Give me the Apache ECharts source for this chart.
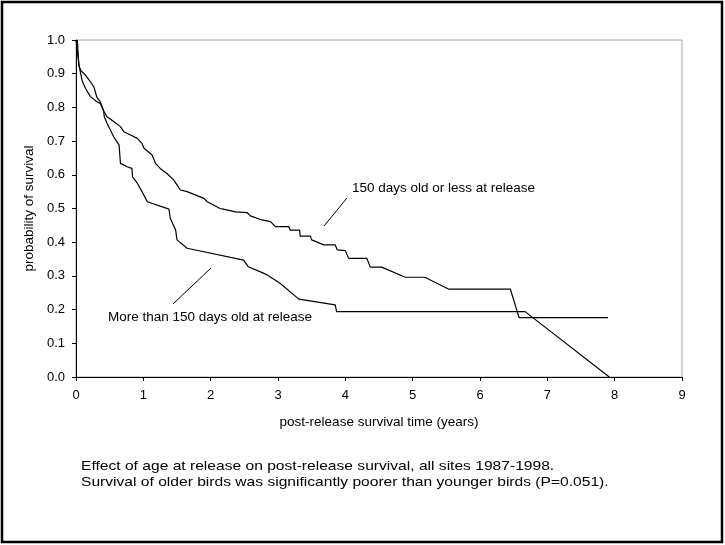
<!DOCTYPE html>
<html><head><meta charset="utf-8">
<script src="https://cdn.jsdelivr.net/npm/echarts@6/dist/echarts.min.js"></script>
<style>html,body{margin:0;padding:0;background:#fff}#c{width:725px;height:545px}</style>
</head><body><div id="c"></div>
<script>
// Younger birds: 150 days old or less at release
const youngX = [0,0.03,0.05,0.07,0.14,0.215,0.265,0.28,0.31,0.36,0.41,0.46,0.56,0.66,0.71,0.81,0.91,0.98,1.01,1.13,1.18,1.25,1.35,1.45,1.50,1.55,1.65,1.90,1.95,2.14,2.17,2.37,2.54,2.59,2.76,2.89,2.96,3.16,3.18,3.32,3.33,3.48,3.50,3.68,3.85,3.88,4.0,4.05,4.32,4.37,4.54,4.89,5.18,5.53,6.45,6.58,7.90];
const youngY = [1.0,0.95,0.92,0.91,0.896,0.876,0.861,0.86,0.83,0.817,0.79,0.772,0.758,0.743,0.728,0.718,0.708,0.693,0.679,0.659,0.634,0.619,0.604,0.585,0.570,0.555,0.55,0.53,0.52,0.50,0.499,0.49,0.488,0.478,0.466,0.461,0.446,0.446,0.436,0.436,0.418,0.418,0.407,0.392,0.392,0.377,0.375,0.352,0.352,0.326,0.326,0.296,0.296,0.261,0.261,0.176,0.176];
// Older birds: more than 150 days old at release
const oldX = [0.02,0.04,0.09,0.14,0.215,0.31,0.36,0.41,0.42,0.46,0.56,0.64,0.66,0.76,0.83,0.84,0.91,0.98,1.06,1.38,1.40,1.48,1.50,1.65,2.49,2.56,2.74,2.84,3.03,3.31,3.85,3.87,6.67,7.92];
const oldY = [1.0,0.93,0.88,0.857,0.832,0.817,0.812,0.79,0.772,0.753,0.713,0.688,0.634,0.624,0.619,0.594,0.575,0.55,0.52,0.498,0.471,0.436,0.407,0.382,0.347,0.327,0.312,0.303,0.278,0.231,0.214,0.194,0.194,0];
const xTicks = [0,1,2,3,4,5,6,7,8,9];
const yTicks = [0,0.1,0.2,0.3,0.4,0.5,0.6,0.7,0.8,0.9,1.0];
const youngLabel = '150 days old or less at release';
const oldLabel = 'More than 150 days old at release';
const xTitle = 'post-release survival time (years)';
const yTitle = 'probability of survival';
const caption1 = 'Effect of age at release on post-release survival, all sites 1987-1998.';
const caption2 = 'Survival of older birds was significantly poorer than younger birds (P=0.051).';

const zip = (xs, ys) => xs.map((x, i) => [x, ys[i]]);
const F = '"Liberation Sans", Arial, sans-serif';
const chart = echarts.init(document.getElementById('c'), null, {renderer: 'canvas'});
chart.setOption({
  animation: false,
  backgroundColor: '#fff',
  grid: {left: 76, right: 43, top: 40, bottom: 168, show: true, borderColor: '#a6a6a6', borderWidth: 1, backgroundColor: 'transparent'},
  xAxis: {
    type: 'value', min: xTicks[0], max: xTicks[xTicks.length - 1], interval: 1,
    name: xTitle, nameLocation: 'middle', nameGap: 38,
    nameTextStyle: {fontFamily: F, fontSize: 13.5, color: '#000'},
    axisLine: {show: true, lineStyle: {color: '#000', width: 1}},
    axisTick: {show: true, length: 4, inside: false, lineStyle: {color: '#000'}},
    axisLabel: {fontFamily: F, fontSize: 13, color: '#000', margin: 12},
    splitLine: {show: false}
  },
  yAxis: {
    type: 'value', min: yTicks[0], max: yTicks[yTicks.length - 1], interval: 0.1,
    name: yTitle, nameLocation: 'middle', nameGap: 36, nameRotate: 90,
    nameTextStyle: {fontFamily: F, fontSize: 13.5, color: '#000'},
    axisLine: {show: true, lineStyle: {color: '#000', width: 1}},
    axisTick: {show: true, length: 4, lineStyle: {color: '#000'}},
    axisLabel: {fontFamily: F, fontSize: 13, color: '#000', margin: 11, formatter: v => v.toFixed(1)},
    splitLine: {show: false}
  },
  series: [
    {type: 'line', name: youngLabel, data: zip(youngX, youngY), showSymbol: false, symbol: 'none',
     lineStyle: {color: '#000', width: 1.2}, z: 3},
    {type: 'line', name: oldLabel, data: zip(oldX, oldY), showSymbol: false, symbol: 'none',
     lineStyle: {color: '#000', width: 1.2}, z: 3}
  ],
  graphic: [
    {type: 'rect', shape: {x: 2, y: 2, width: 720, height: 540}, style: {fill: 'none', stroke: '#000', lineWidth: 2.5}},
    {type: 'text', x: 352, y: 181, style: {text: youngLabel, font: '13.5px ' + F, fill: '#000'}},
    {type: 'line', shape: {x1: 347, y1: 198, x2: 324, y2: 226}, style: {stroke: '#000', lineWidth: 1}},
    {type: 'text', x: 108, y: 310, style: {text: oldLabel, font: '13.5px ' + F, fill: '#000'}},
    {type: 'line', shape: {x1: 211, y1: 268, x2: 173, y2: 304}, style: {stroke: '#000', lineWidth: 1}},
    {type: 'text', x: 81, y: 460, scaleX: 1.2, style: {text: caption1, font: '13px ' + F, fill: '#000'}},
    {type: 'text', x: 81, y: 476, scaleX: 1.2, style: {text: caption2, font: '13px ' + F, fill: '#000'}}
  ]
});
</script></body></html>
